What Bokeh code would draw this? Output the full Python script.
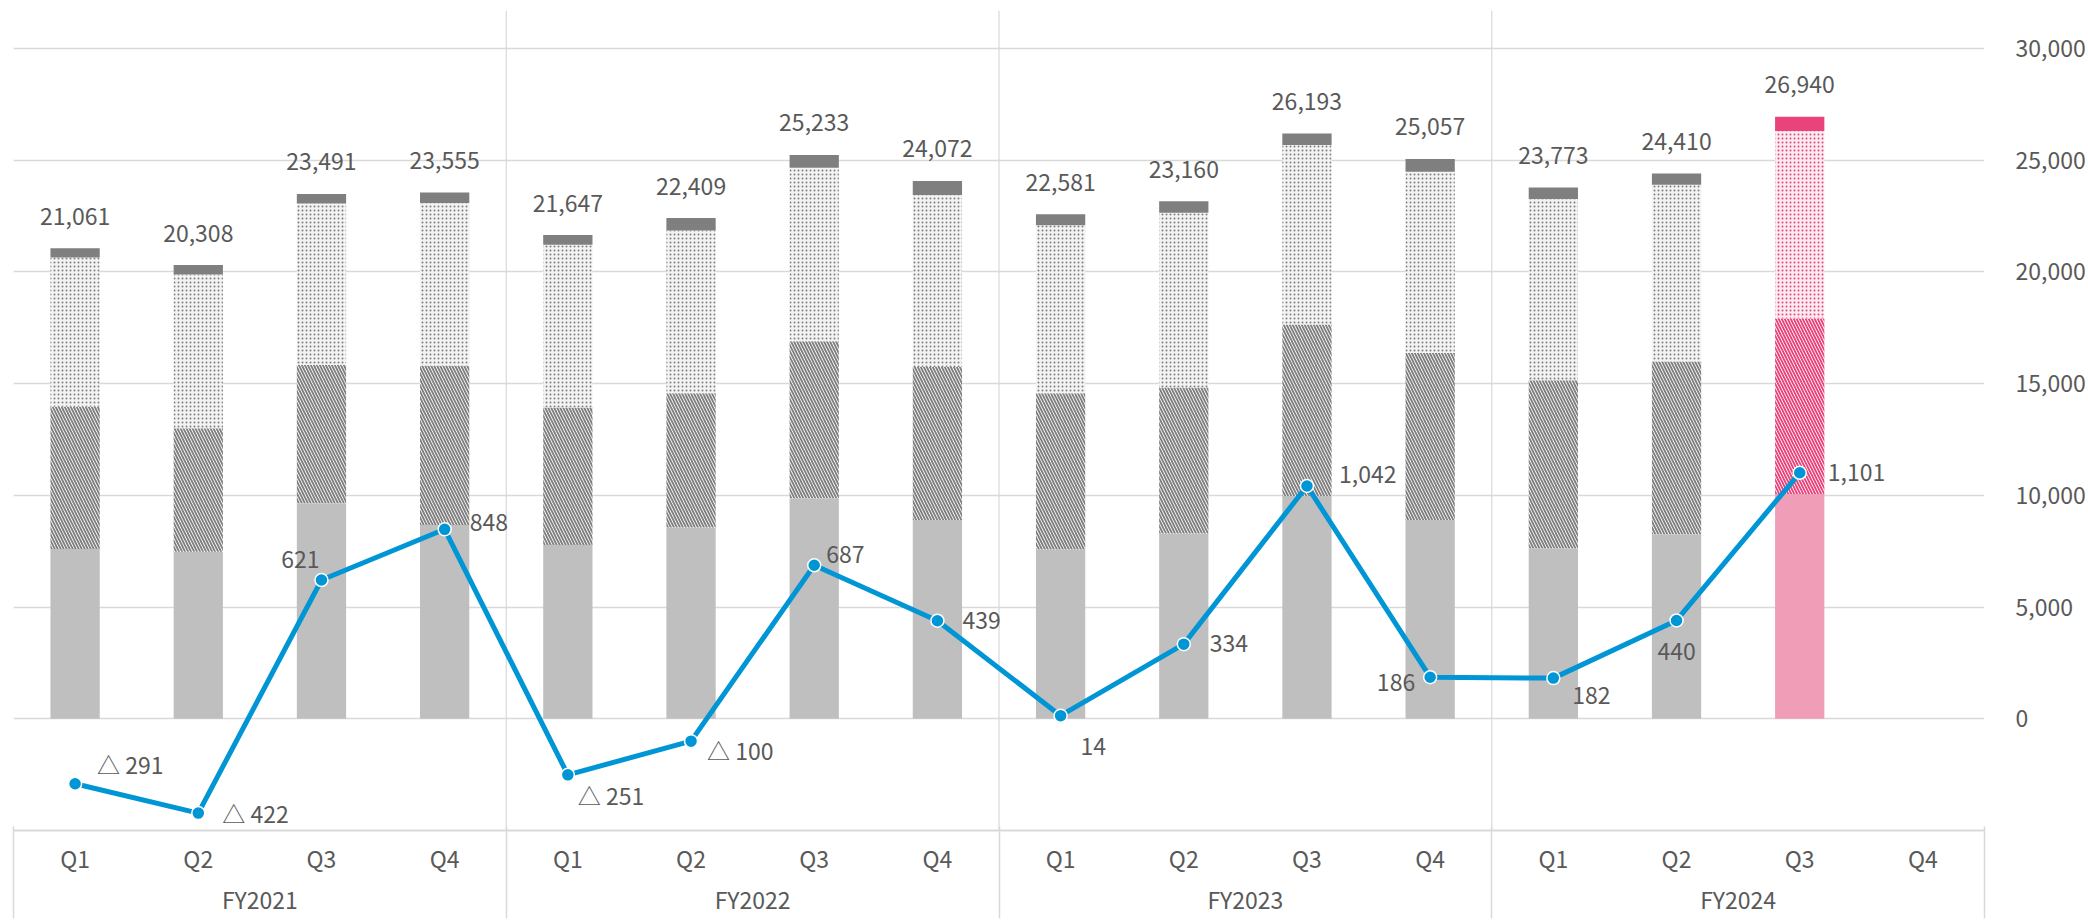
from bokeh.plotting import figure
from bokeh.models import (ColumnDataSource, FactorRange, Range1d, LinearAxis, CategoricalAxis,
                          FixedTicker, NumeralTickFormatter)
from bokeh.core.properties import value
from bokeh.embed import file_html
from bokeh.resources import INLINE

# ---------------- data ----------------
fiscal_years = ["FY2021", "FY2022", "FY2023", "FY2024"]
quarters = ["Q1", "Q2", "Q3", "Q4"]

seg_base = [7596, 7475, 9641, 8672, 7776, 8565, 9865, 8897, 7578, 8296, 9973, 8897, 7623, 8251, 10063]
seg_hatched = [6368, 5530, 6207, 7131, 6157, 6009, 7027, 6843, 6996, 6534, 7668, 7471, 7534, 7745, 7847]
seg_dotted = [6682, 6878, 7219, 7278, 7278, 7282, 7772, 7699, 7520, 7816, 8041, 8116, 8103, 7905, 8395]
seg_other = [415, 425, 424, 474, 436, 553, 569, 633, 487, 514, 511, 573, 513, 509, 635]
totals = [21061, 20308, 23491, 23555, 21647, 22409, 25233, 24072, 22581, 23160, 26193, 25057, 23773, 24410, 26940]
op_income = [-291, -422, 621, 848, -251, -100, 687, 439, 14, 334, 1042, 186, 182, 440, 1101]
y_ticks = [0, 5000, 10000, 15000, 20000, 25000, 30000]

# ---------------- styles ----------------
FONT = "Noto Sans CJK JP"
FS = "23px"
TXT = "#595959"
GRID = "#D9D9D9"
BLUE = "#0096D6"
highlight = len(totals) - 1
gray_style = dict(base="#BFBFBF", pat="#7F7F7F", cap="#7F7F7F", dotbg="#F3F3F3")
pink_style = dict(base="#F09EB7", pat="#E8437A", cap="#E8437A", dotbg="#FCEBF0")
# label offsets (px) and alignment for the line labels
lab_pos = [(22, -20, "left"), (24, 0, "left"), (-2, -21, "right"), (25, -7, "left"),
           (10, 20, "left"), (16, 9, "left"), (12, -11, "left"), (25, 0, "left"),
           (20, 31, "left"), (26, -1, "left"), (32, -11, "left"), (-15, 5, "right"),
           (19, 17, "left"), (0, 31, "center"), (28, 0, "left")]

factors = [(fy, q) for fy in fiscal_years for q in quarters]
n = len(totals)
styles = [pink_style if i == highlight else gray_style for i in range(n)]

src = ColumnDataSource(dict(
    x=factors[:n],
    base=seg_base, hatched=seg_hatched, dotted=seg_dotted, other=seg_other,
    total=totals, total_lbl=[f"{v:,}" for v in totals],
    c_base=[s["base"] for s in styles], c_pat=[s["pat"] for s in styles],
    c_cap=[s["cap"] for s in styles], c_dotbg=[s["dotbg"] for s in styles],
    op=op_income,
    op_lbl=[("△ " + f"{abs(v):,}") if v < 0 else f"{v:,}" for v in op_income],
    xo=[o[0] for o in lab_pos], yo=[o[1] for o in lab_pos], al=[o[2] for o in lab_pos],
))

x_range = FactorRange(*factors, factor_padding=0, group_padding=0, subgroup_padding=0, range_padding=0)
y_range = Range1d(-5000, 31700)

p = figure(x_range=x_range, y_range=y_range, width=2088, height=920,
           output_backend="svg", toolbar_location=None,
           x_axis_location=None, y_axis_location="right",
           min_border_left=13, min_border_top=10, min_border_right=101, min_border_bottom=90,
           background_fill_color="white", border_fill_color="white", outline_line_color=None)

p.extra_y_ranges = {"op": Range1d(y_range.start / 10, y_range.end / 10)}

for g in p.grid:
    if g.dimension == 0:
        g.visible = False

# right value axis
ya = p.yaxis[0]
ya.ticker = FixedTicker(ticks=y_ticks)
ya.formatter = NumeralTickFormatter(format="0,0")
ya.axis_line_color = None
ya.major_tick_line_color = None
ya.minor_tick_line_color = None
ya.major_label_standoff = 25
ya.major_label_text_font = FONT
ya.major_label_text_font_size = FS
ya.major_label_text_color = TXT
p.ygrid.grid_line_color = GRID
p.ygrid.grid_line_width = 1.5

# two-level category axis
cat_axis = CategoricalAxis()
cat_axis.axis_line_color = GRID
cat_axis.axis_line_width = 2
cat_axis.major_tick_line_color = None
cat_axis.minor_tick_line_color = None
cat_axis.separator_line_color = None
cat_axis.major_label_standoff = 4
cat_axis.major_label_text_font = FONT
cat_axis.major_label_text_font_size = FS
cat_axis.major_label_text_color = TXT
cat_axis.group_text_font = FONT
cat_axis.group_text_font_size = FS
cat_axis.group_text_color = TXT
cat_axis.group_text_font_style = "normal"
p.add_layout(cat_axis, "below")

# box lines of the category area (group edges in the factor range's synthetic units)
group_edges = [len(quarters) * i for i in range(len(fiscal_years) + 1)]
box_axis = LinearAxis(ticker=FixedTicker(ticks=[], minor_ticks=group_edges))
box_axis.axis_line_color = None
box_axis.major_tick_in = 0
box_axis.major_tick_out = 0
box_axis.minor_tick_in = 92
box_axis.minor_tick_out = 0
box_axis.minor_tick_line_color = GRID
box_axis.minor_tick_line_width = 1.5
box_axis.major_label_standoff = 0
box_axis.major_label_text_font_size = "0px"
p.add_layout(box_axis, "below")

# group separators through the plot area
p.segment(x0=group_edges[1:-1], x1=group_edges[1:-1], y0=y_range.start, y1=y_range.end,
          line_color=GRID, line_width=1.2)

# stacked bars
p.vbar_stack(["base", "hatched", "dotted", "other"], x="x", width=0.4, source=src,
             fill_color=["c_base", "white", "c_dotbg", "c_cap"],
             hatch_pattern=[" ", "left_diagonal_line", "dot", " "],
             hatch_color="c_pat", hatch_scale=[6, 6, 4, 6], hatch_weight=[2, 1.9, 3, 2],
             line_color=None)

p.text(x="x", y="total", text="total_lbl", source=src, y_offset=-32,
       text_align="center", text_baseline="middle",
       text_font=value(FONT), text_font_size=FS, text_color=TXT)

# operating income line
p.line(x="x", y="op", source=src, y_range_name="op", line_color=BLUE, line_width=5)
p.scatter(x="x", y="op", source=src, y_range_name="op", marker="circle", size=13,
          fill_color=BLUE, line_color="white", line_width=1.5)
p.text(x="x", y="op", text="op_lbl", source=src, y_range_name="op",
       x_offset="xo", y_offset="yo", text_align="al", text_baseline="middle",
       text_font=value(FONT), text_font_size=FS, text_color=TXT)

open("out.html", "w").write(file_html(p, INLINE))
